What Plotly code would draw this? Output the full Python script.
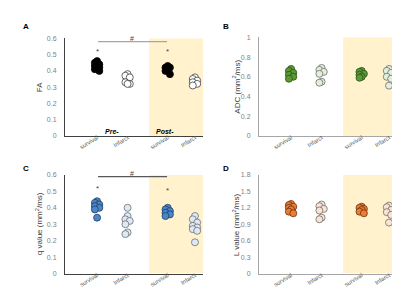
import plotly.graph_objects as go

# ---------------- data ----------------
categories = ["survival", "Infarct", "survival", "Infarct"]
phase_labels = ["Pre-", "Post-"]

fa_surv_pre = [0.46, 0.45, 0.44, 0.43, 0.42, 0.41, 0.40]
fa_inf_pre = [0.38, 0.37, 0.36, 0.33, 0.32, 0.32]
fa_surv_post = [0.43, 0.42, 0.42, 0.41, 0.40, 0.38]
fa_inf_post = [0.36, 0.35, 0.34, 0.33, 0.32, 0.31]

adc_surv_pre = [0.68, 0.66, 0.64, 0.62, 0.60, 0.58]
adc_inf_pre = [0.69, 0.67, 0.65, 0.63, 0.55, 0.54]
adc_surv_post = [0.66, 0.65, 0.63, 0.62, 0.60, 0.59]
adc_inf_post = [0.68, 0.66, 0.64, 0.60, 0.58, 0.51]

q_surv_pre = [0.44, 0.43, 0.42, 0.41, 0.40, 0.39, 0.34]
q_inf_pre = [0.40, 0.35, 0.33, 0.32, 0.30, 0.25, 0.24]
q_surv_post = [0.40, 0.39, 0.38, 0.37, 0.36, 0.35]
q_inf_post = [0.35, 0.33, 0.31, 0.29, 0.28, 0.27, 0.26, 0.19]

l_surv_pre = [1.27, 1.25, 1.22, 1.20, 1.17, 1.13, 1.10]
l_inf_pre = [1.26, 1.23, 1.18, 1.15, 1.02, 0.99]
l_surv_post = [1.22, 1.20, 1.18, 1.16, 1.13, 1.10]
l_inf_post = [1.24, 1.21, 1.16, 1.12, 1.07, 0.93]

# significance markers (value level of star / bar)
fa_star = [0.52, 0.52]
fa_bar = 0.58
q_star = [0.52, 0.505]
q_bar = 0.59

# ---------------- layout constants ----------------
W, H = 400, 289
XMAX = 4.3
cat_pos = [1.0, 1.95, 3.2, 4.05]
shade_x0 = 2.62

panels = {
    # name: (x0px, x1px, ytop_px, ybot_px, ymax, dtick)
    "A": (57, 195, 27, 127, 0.6, 0.1),
    "B": (251, 389, 26, 127, 1.0, 0.2),
    "C": (57, 195, 167, 268, 0.6, 0.1),
    "D": (251, 389, 167, 268, 1.8, 0.3),
}

colors = {
    "A": (("#000000", "#000000"), ("#ffffff", "#404040")),
    "B": (("#5a9a32", "#2e4f1c"), ("#e2efda", "#6f6f6f")),
    "C": (("#4a86c8", "#1f3f66"), ("#dce9f6", "#6f6f6f")),
    "D": (("#ed7d31", "#6b3210"), ("#fbe3d3", "#6f6f6f")),
}

axis_line = {"A": "#404040", "B": "#a6a6a6", "C": "#404040", "D": "#a6a6a6"}

panel_data = {
    "A": [fa_surv_pre, fa_inf_pre, fa_surv_post, fa_inf_post],
    "B": [adc_surv_pre, adc_inf_pre, adc_surv_post, adc_inf_post],
    "C": [q_surv_pre, q_inf_pre, q_surv_post, q_inf_post],
    "D": [l_surv_pre, l_inf_pre, l_surv_post, l_inf_post],
}

ytitles = {
    "A": "FA",
    "B": "ADC (mm<sup>2</sup>/ms)",
    "C": "q value (mm<sup>2</sup>/ms)",
    "D": "L value (mm<sup>2</sup>/ms)",
}

MSIZE = 7


def swarm(values, center, px_x, px_y, step=2.2):
    """Deterministic compact swarm: each point takes one of three columns,
    whichever leaves it farthest from the points already placed."""
    placed = []
    xs = [0.0] * len(values)
    order = sorted(range(len(values)), key=lambda i: -values[i])
    for i in order:
        ypx = values[i] * px_y
        best, best_d = 0.0, -1.0
        for off in (0.0, -step, step):
            d = min([((off - px) ** 2 + (ypx - py) ** 2) ** 0.5 for px, py in placed] or [99])
            if d >= 6.5:
                best = off
                break
            if d > best_d + 0.3:
                best, best_d = off, d
        placed.append((best, ypx))
        xs[i] = center + best / px_x
    return xs


fig = go.Figure()
layout = dict(
    width=W, height=H, margin=dict(l=0, r=0, t=0, b=0),
    paper_bgcolor="white", plot_bgcolor="rgba(0,0,0,0)",
    showlegend=False, shapes=[], annotations=[],
    font=dict(family="Liberation Sans, Arial, sans-serif", color="#595959"),
)

for idx, name in enumerate(["A", "B", "C", "D"]):
    x0p, x1p, ytp, ybp, ymax, dtick = panels[name]
    sfx = "" if idx == 0 else str(idx + 1)
    xa, ya = "x" + sfx, "y" + sfx
    px_x = (x1p - x0p) / XMAX
    px_y = (ybp - ytp) / ymax
    (sf, so), (inf_f, inf_o) = colors[name]
    for ci, vals in enumerate(panel_data[name]):
        surv = ci % 2 == 0
        xs = swarm(vals, cat_pos[ci], px_x, px_y)
        fig.add_trace(go.Scatter(
            x=xs, y=vals, mode="markers", xaxis=xa, yaxis=ya,
            marker=dict(size=MSIZE, color=sf if surv else inf_f,
                        line=dict(color=so if surv else inf_o, width=0.8)),
            hoverinfo="y",
        ))
    layout["xaxis" + sfx] = dict(
        domain=[x0p / W, x1p / W], range=[0, XMAX], anchor=ya,
        tickmode="array", tickvals=cat_pos, ticktext=categories,
        tickangle=-32, tickfont=dict(size=6, color="#595959"),
        ticklabelstandoff=-5,
        showline=True, linecolor=axis_line[name], linewidth=1,
        showgrid=False, zeroline=False, ticks="",
    )
    layout["yaxis" + sfx] = dict(
        domain=[1 - ybp / H, 1 - ytp / H], range=[0, ymax], anchor=xa,
        dtick=dtick, tick0=0,
        tickfont=dict(size=7, color="#7f7f7f"),
        showline=True, linecolor=axis_line[name], linewidth=1,
        showgrid=False, zeroline=False, ticks="outside", ticklen=6,
        tickcolor="rgba(0,0,0,0)",
    )
    # shaded "Post-" region
    layout["shapes"].append(dict(
        type="rect", xref=xa, yref=ya, x0=shade_x0, x1=XMAX, y0=0, y1=ymax,
        fillcolor="#fff2cc", line=dict(width=0), layer="below",
    ))
    # panel letter
    lx = 18 if x0p < 200 else 218
    ly = 15 if ytp < 100 else 160
    layout["annotations"].append(dict(
        text="<b>%s</b>" % name, xref="paper", yref="paper",
        x=lx / W, y=1 - ly / H, showarrow=False,
        font=dict(size=8, color="#000000"), xanchor="center", yanchor="middle",
    ))
    # y title
    tx = 31 if x0p < 200 else 228
    layout["annotations"].append(dict(
        text=ytitles[name], xref="paper", yref="paper",
        x=tx / W, y=1 - (ytp + ybp) / 2 / H, textangle=-90, showarrow=False,
        font=dict(size=8, color="#404040"), xanchor="center", yanchor="middle",
    ))

# significance annotations in A and C
for sfx, stars, bar, bcol in [("", fa_star, fa_bar, "#a6a6a6"), ("3", q_star, q_bar, "#595959")]:
    xa, ya = "x" + sfx, "y" + sfx
    layout["shapes"].append(dict(
        type="line", xref=xa, yref=ya, x0=cat_pos[0] + 0.03, x1=cat_pos[2] - 0.02,
        y0=bar, y1=bar, line=dict(color=bcol, width=1.3),
    ))
    layout["annotations"].append(dict(
        text="#", xref=xa, yref=ya, x=(cat_pos[0] + cat_pos[2]) / 2, y=bar,
        showarrow=False, yanchor="bottom", yshift=-2,
        font=dict(size=7, color="#404040"),
    ))
    for si, sv in enumerate(stars):
        layout["annotations"].append(dict(
            text="*", xref=xa, yref=ya, x=cat_pos[2 * si], y=sv,
            showarrow=False, yanchor="middle",
            font=dict(size=8, color="#404040"),
        ))

# Pre- / Post- labels in A
for lbl, xpos in zip(phase_labels, [(cat_pos[0] + cat_pos[1]) / 2, cat_pos[2] - 0.08]):
    layout["annotations"].append(dict(
        text="<b><i>%s</i></b>" % lbl, xref="x", yref="y", x=xpos, y=0.03,
        showarrow=False, font=dict(size=7, color="#000000"),
    ))

fig.update_layout(**layout)
fig.write_html("out.html")
